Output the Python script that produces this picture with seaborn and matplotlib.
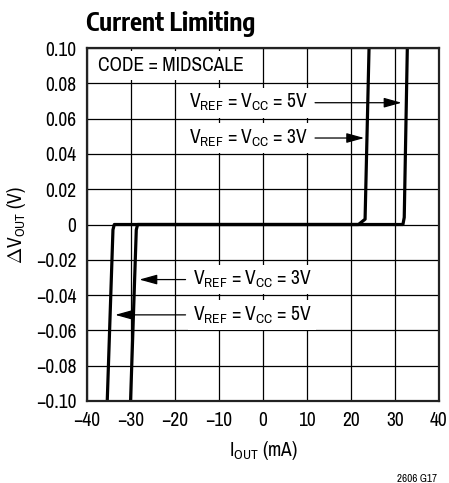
import matplotlib
matplotlib.use("Agg")
import matplotlib.pyplot as plt
import seaborn as sns
import pandas as pd

# ---- data ----
iout_5v = [-35.4, -34.1, -33.8, 31.8, 32.1, 32.8]
dv_5v = [-0.10, -0.003, 0.0, 0.0, 0.004, 0.10]
iout_3v = [-30.1, -28.8, -28.5, 21.7, 23.2, 24.1]
dv_3v = [-0.10, -0.003, 0.0, 0.0, 0.003, 0.10]

x_ticks = [-40, -30, -20, -10, 0, 10, 20, 30, 40]
y_ticks = [-0.10, -0.08, -0.06, -0.04, -0.02, 0, 0.02, 0.04, 0.06, 0.08, 0.10]
y_tick_labels = ["\u22120.10", "\u22120.08", "\u22120.06", "\u22120.04", "\u22120.02", "0",
                 "0.02", "0.04", "0.06", "0.08", "0.10"]
x_tick_labels = ["\u221240", "\u221230", "\u221220", "\u221210", "0", "10", "20", "30", "40"]

title = "Current Limiting"
label_5v = r"V$_\mathregular{REF}$ = V$_\mathregular{CC}$ = 5V"
label_3v = r"V$_\mathregular{REF}$ = V$_\mathregular{CC}$ = 3V"
code_text = "CODE = MIDSCALE"
fig_code = "2606 G17"

sns.set_theme(style="white")
FONT = ["Archivo Narrow", "DejaVu Sans"]
plt.rcParams["font.family"] = FONT
plt.rcParams["text.color"] = "black"
plt.rcParams["mathtext.fontset"] = "custom"
plt.rcParams["mathtext.rm"] = "Archivo Narrow"
plt.rcParams["mathtext.it"] = "Archivo Narrow"
plt.rcParams["mathtext.bf"] = "Archivo Narrow"
plt.rcParams["mathtext.sf"] = "Archivo Narrow"

FS = 14

fig = plt.figure(figsize=(4.49, 4.83), dpi=100)
ax = fig.add_axes([87 / 449, 1 - 401 / 483, 352 / 449, 353 / 483])

df5 = pd.DataFrame({"I": iout_5v, "V": dv_5v})
df3 = pd.DataFrame({"I": iout_3v, "V": dv_3v})
for d in (df5, df3):
    sns.lineplot(data=d, x="I", y="V", sort=False, estimator=None, ax=ax,
                 color="black", linewidth=2.3, solid_joinstyle="round",
                 solid_capstyle="butt", zorder=3)

ax.set_xlim(-40, 40)
ax.set_ylim(-0.10, 0.10)
ax.set_xticks(x_ticks)
ax.set_xticklabels(x_tick_labels)
ax.set_yticks(y_ticks)
ax.set_yticklabels(y_tick_labels)
ax.tick_params(axis="both", length=0, labelsize=FS, colors="black", pad=7.5)
ax.grid(True, color="black", linewidth=0.9)
ax.set_axisbelow(True)
for s in ax.spines.values():
    s.set_color("#222222")
    s.set_linewidth(1.6)
    s.set_zorder(4)

ax.set_xlabel(r"I$_\mathregular{OUT}$ (mA)", fontsize=FS, color="black", labelpad=6)
ax.set_ylabel(r"$\Delta$V$_\mathregular{OUT}$ (V)", fontsize=FS, color="black", labelpad=6)

fig.text(86 / 449, 1 - 31 / 483, title, fontsize=18,
         family=["Encode Sans Condensed", "DejaVu Sans"], fontweight="bold",
         ha="left", va="baseline", color="black")
fig.text(437 / 449, 1 - 482 / 483, fig_code, fontsize=8, ha="right",
         va="baseline", color="black")

box = dict(boxstyle="square,pad=0.22", fc="white", ec="none")
ax.text(-37.4, 0.09, code_text, fontsize=FS, ha="left", va="center",
        bbox=dict(boxstyle="square,pad=0.25", fc="white", ec="none"), zorder=5)

arrow = dict(arrowstyle="-|>,head_length=0.9,head_width=0.25", color="black",
             lw=0.9, mutation_scale=12, shrinkA=2, shrinkB=0)
ax.annotate(label_5v, xy=(31.5, 0.069), xytext=(-16.8, 0.069), fontsize=FS,
            ha="left", va="center", bbox=box, arrowprops=arrow, zorder=5)
ax.annotate(label_3v, xy=(23.0, 0.049), xytext=(-16.8, 0.049), fontsize=FS,
            ha="left", va="center", bbox=box, arrowprops=arrow, zorder=5)
ax.annotate(label_3v, xy=(-28.1, -0.0312), xytext=(-16.0, -0.0312), fontsize=FS,
            ha="left", va="center", bbox=box, arrowprops=arrow, zorder=5)
ax.annotate(label_5v, xy=(-33.6, -0.0512), xytext=(-16.0, -0.0512), fontsize=FS,
            ha="left", va="center", bbox=box, arrowprops=arrow, zorder=5)

fig.savefig("out.png", dpi=100)
